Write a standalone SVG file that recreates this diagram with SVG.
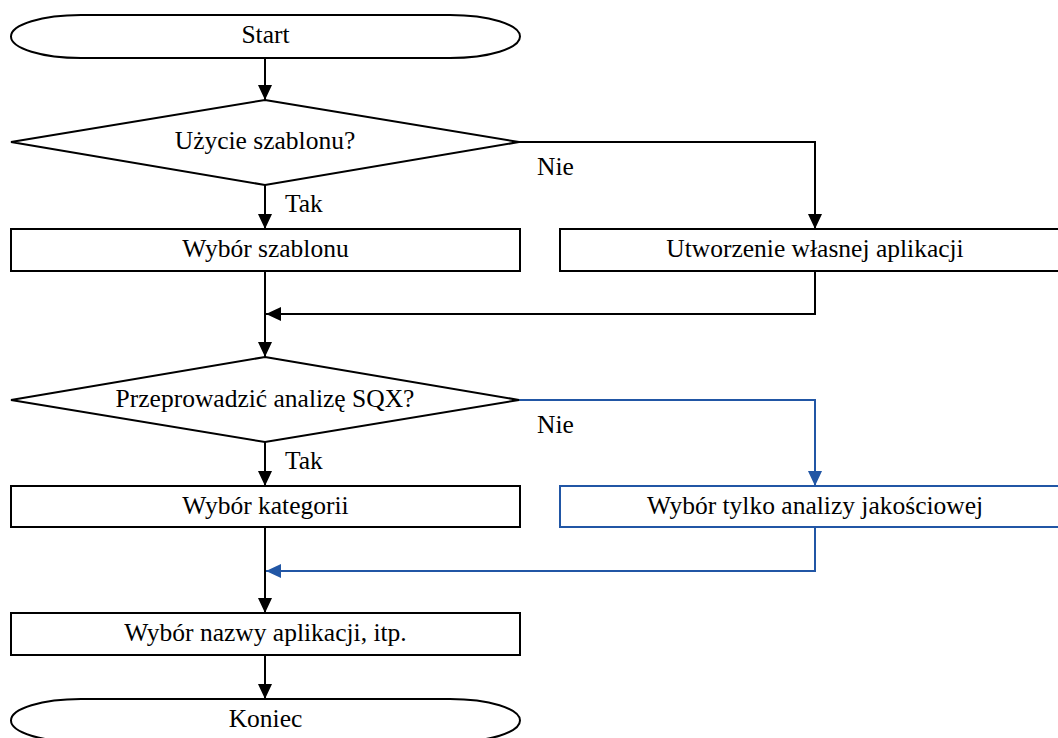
<svg xmlns="http://www.w3.org/2000/svg" width="1058" height="738" viewBox="0 0 1058 738">
<style>
.s{fill:#fff;stroke:#000;stroke-width:2}
.b{fill:#fff;stroke:#2156a5;stroke-width:2}
text{font-family:'Liberation Serif','Times New Roman',Times,serif;font-size:25.5px;fill:#000}
.t{text-anchor:middle}
.c{fill:none;stroke:#000;stroke-width:2}
.cb{fill:none;stroke:#2156a5;stroke-width:2}
</style>
<defs>
<marker id="ak" viewBox="0 0 15 14" refX="15" refY="7" markerWidth="15" markerHeight="14" markerUnits="userSpaceOnUse" orient="auto"><path d="M0,0L15,7L0,14Z" fill="#000"/></marker>
<marker id="ab" viewBox="0 0 15 14" refX="15" refY="7" markerWidth="15" markerHeight="14" markerUnits="userSpaceOnUse" orient="auto"><path d="M0,0L15,7L0,14Z" fill="#2156a5"/></marker>
</defs>
<rect width="1058" height="738" fill="#fff"/>
<g id="connectors">
<path class="c" d="M265,58V100" marker-end="url(#ak)"/>
<path class="c" d="M265,185V229" marker-end="url(#ak)"/>
<path class="c" d="M519,142H815V229" marker-end="url(#ak)"/>
<path class="c" d="M815,271V314H266" marker-end="url(#ak)"/>
<path class="c" d="M265,271V357" marker-end="url(#ak)"/>
<path class="c" d="M265,442V486" marker-end="url(#ak)"/>
<path class="cb" d="M519,400H815V486" marker-end="url(#ab)"/>
<path class="cb" d="M815,527V571H266" marker-end="url(#ab)"/>
<path class="c" d="M265,527V613" marker-end="url(#ak)"/>
<path class="c" d="M265,655V699" marker-end="url(#ak)"/>
<text x="537" y="175">Nie</text>
<text x="285" y="212">Tak</text>
<text x="537" y="433">Nie</text>
<text x="285" y="469">Tak</text>
</g>
<g id="start">
<rect class="s" x="11" y="15" width="509" height="43" rx="70" ry="21.5"/>
<text class="t" x="265.5" y="43">Start</text>
</g>
<g id="decision1">
<path class="s" d="M265,100L519,142L265,185L11,142Z"/>
<text class="t" x="265" y="149">Użycie szablonu?</text>
</g>
<g id="wybor-szablonu">
<rect class="s" x="11" y="229" width="509" height="42"/>
<text class="t" x="265.5" y="257">Wybór szablonu</text>
</g>
<g id="utworzenie">
<rect class="s" x="560" y="229" width="510" height="42"/>
<text class="t" x="815" y="257">Utworzenie własnej aplikacji</text>
</g>
<g id="decision2">
<path class="s" d="M265,357L519,400L265,442L11,400Z"/>
<text class="t" x="265" y="407">Przeprowadzić analizę SQX?</text>
</g>
<g id="wybor-kategorii">
<rect class="s" x="11" y="486" width="509" height="41"/>
<text class="t" x="265.5" y="514">Wybór kategorii</text>
</g>
<g id="wybor-jakosciowej">
<rect class="b" x="560" y="486" width="510" height="41"/>
<text class="t" x="815" y="514">Wybór tylko analizy jakościowej</text>
</g>
<g id="wybor-nazwy">
<rect class="s" x="11" y="613" width="509" height="42"/>
<text class="t" x="265.5" y="641">Wybór nazwy aplikacji, itp.</text>
</g>
<g id="koniec">
<rect class="s" x="11" y="699" width="509" height="43" rx="70" ry="21.5"/>
<text class="t" x="265.5" y="727">Koniec</text>
</g>
</svg>
